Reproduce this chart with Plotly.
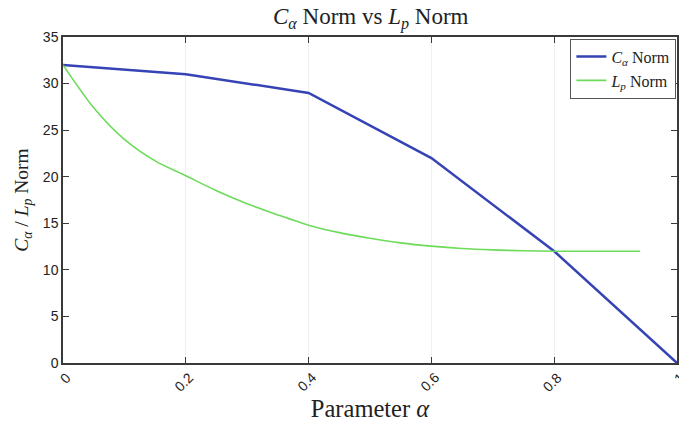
import plotly.graph_objects as go

# Data
c_alpha_x = [0, 0.2, 0.4, 0.6, 0.8, 1.0]
c_alpha_y = [32, 31, 29, 22, 12, 0]

lp_x = [0, 0.05, 0.1, 0.15, 0.2, 0.25, 0.3, 0.35, 0.4, 0.45, 0.5, 0.55, 0.6,
        0.65, 0.7, 0.75, 0.8, 0.85, 0.9, 0.94]
lp_y = [32, 27.4, 24.0, 21.7, 20.1, 18.5, 17.1, 15.9, 14.8, 14.0, 13.4, 12.9,
        12.55, 12.3, 12.15, 12.05, 12.0, 12.0, 12.0, 12.0]

x_ticks = [0, 0.2, 0.4, 0.6, 0.8, 1]
x_tick_text = ["0", "0.2", "0.4", "0.6", "0.8", "1"]
y_ticks = [0, 5, 10, 15, 20, 25, 30, 35]

serif = "Liberation Serif, Times New Roman, serif"
sans = "Liberation Sans, Arial, sans-serif"

W, H = 679, 427
ML, MR, MT, MB = 63, 0, 37, 64

fig = go.Figure()
fig.add_trace(go.Scatter(x=c_alpha_x, y=c_alpha_y, mode="lines",
                         name="<i>C</i><sub><i>α</i></sub> Norm",
                         line=dict(color="#3543b5", width=2.5)))
fig.add_trace(go.Scatter(x=lp_x, y=lp_y, mode="lines",
                         name="<i>L</i><sub><i>p</i></sub> Norm",
                         line=dict(color="#6cdb5a", width=1.6, shape="spline", smoothing=0.8)))

axis_common = dict(showline=True, linecolor="#3a3a3a", linewidth=1.5,
                   mirror="ticks", ticks="inside", ticklen=6, tickcolor="#3a3a3a",
                   zeroline=False)

# rotated x tick labels, centred so their upper end sits just right of the tick
annotations = []
for v, t in zip(x_ticks, x_tick_text):
    half = sum(3.9 if ch == "." else 7.8 for ch in t) / 2.0
    d = 0.707 * half
    annotations.append(dict(
        x=v, xref="x", y=-12 / (H - MT - MB), yref="paper",
        text=t, showarrow=False, textangle=-45,
        xanchor="center", yanchor="middle",
        xshift=5 - d, yshift=-d,
        font=dict(family=sans, size=14, color="#222")))

fig.update_layout(
    width=W, height=H,
    margin=dict(l=ML, r=MR, t=MT, b=MB),
    paper_bgcolor="white", plot_bgcolor="white",
    title=dict(text="<i>C</i><sub><i>α</i></sub> Norm vs <i>L</i><sub><i>p</i></sub> Norm",
               x=0.546, xanchor="center", y=0.963, yanchor="middle",
               font=dict(family=serif, size=23, color="#222")),
    xaxis=dict(range=[0, 1], tickvals=x_ticks, showticklabels=False,
               showgrid=True, gridcolor="#efefef", gridwidth=1,
               title=dict(text="Parameter <i>α</i>", font=dict(family=serif, size=24.5, color="#222"),
                          standoff=36),
               **axis_common),
    yaxis=dict(range=[0, 35], tickvals=y_ticks, showgrid=False,
               tickfont=dict(family=sans, size=14, color="#222"),
               title=dict(text="<i>C</i><sub><i>α</i></sub> / <i>L</i><sub><i>p</i></sub> Norm",
                          font=dict(family=serif, size=19.5, color="#222"), standoff=9),
               **axis_common),
    legend=dict(x=0.999, y=0.995, xanchor="right", yanchor="top",
                bgcolor="white", bordercolor="#555", borderwidth=1,
                font=dict(family=serif, size=16, color="#222"),
                tracegroupgap=0, itemwidth=30),
    annotations=annotations,
    showlegend=True,
)

fig.write_html("out.html", config={"displayModeBar": False},
               post_script="document.body.style.margin='0';")
